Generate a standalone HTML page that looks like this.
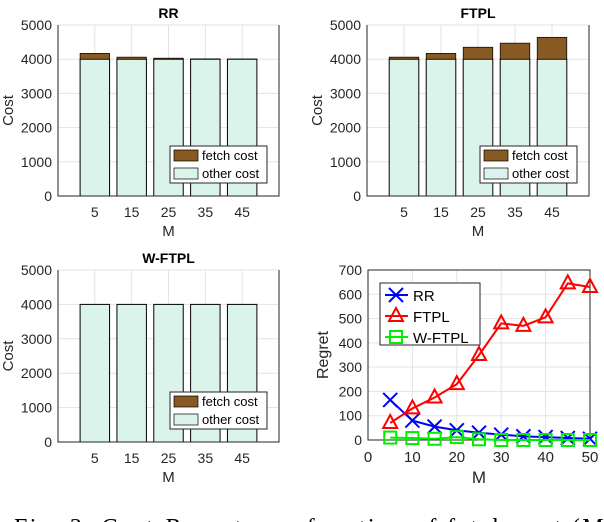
<!DOCTYPE html>
<html><head><meta charset="utf-8"><style>
body{margin:0;background:#fff;width:604px;height:522px;overflow:hidden}
svg{display:block;font-family:"Liberation Sans",sans-serif}
</style></head><body>
<svg id="fig" width="604" height="522" viewBox="0 0 604 522"></svg>
<script>
const categories = ["5","15","25","35","45"];
const costTicks = [0,1000,2000,3000,4000,5000];
const rrOther = [4000,4000,4000,4000,4000];
const rrFetch = [170,60,30,10,5];
const ftplOther = [4000,4000,4000,4000,4000];
const ftplFetch = [60,170,350,470,640];
const wftplOther = [4000,4000,4000,4000,4000];
const wftplFetch = [0,0,0,0,0];
const regretM = [5,10,15,20,25,30,35,40,45,50];
const regretRR = [165,80,55,40,30,22,15,12,8,5];
const regretFTPL = [70,130,175,230,350,480,470,505,645,630];
const regretWFTPL = [10,8,5,12,3,0,0,0,0,0];
const regretXTicks = [0,10,20,30,40,50];
const regretYTicks = [0,100,200,300,400,500,600,700];

const NS="http://www.w3.org/2000/svg";
const svg=document.getElementById('fig');
function mk(tag,attrs,parent,text){const e=document.createElementNS(NS,tag);for(const k in attrs)e.setAttribute(k,attrs[k]);if(text!==undefined)e.textContent=text;(parent||svg).appendChild(e);return e;}

function barPanel(name,title,L,R,T,B,other,fetch,legX,legY){
  const g=mk('g',{});
  
  
  const y=v=>B-(v/5000)*(B-T);
  const x=i=>L+(i+1)*(R-L)/6;
  const bw=0.8*(R-L)/6;
  costTicks.forEach(t=>{
    const gl=mk('line',{x1:L,x2:R,y1:y(t),y2:y(t),stroke:'#e3e3e3','stroke-width':1},g);
    
    const tl=mk('text',{x:L-6,y:y(t)+5,'text-anchor':'end','font-size':14,fill:'#262626'},g,String(t));
    
  });
  categories.forEach((c,i)=>{
    const gl=mk('line',{x1:x(i),x2:x(i),y1:T,y2:B,stroke:'#e3e3e3','stroke-width':1},g);
    
  });
  categories.forEach((c,i)=>{
    const o=mk('rect',{x:x(i)-bw/2,y:y(other[i]),width:bw,height:B-y(other[i]),fill:'#daf4ec',stroke:'#000','stroke-width':1},g);
    
    if(fetch[i]>0){
      const f=mk('rect',{x:x(i)-bw/2,y:y(other[i]+fetch[i]),width:bw,height:y(other[i])-y(other[i]+fetch[i]),fill:'#875a24',stroke:'#000','stroke-width':0.7},g);
      
    }
    const tl=mk('text',{x:x(i),y:B+21,'text-anchor':'middle','font-size':14,fill:'#262626'},g,c);
    
  });
  const ax=mk('path',{d:`M${L},${T}V${B}H${R}V${T}`,fill:'none',stroke:'#262626','stroke-width':1},g);
  
  const ti=mk('text',{x:(L+R)/2,y:T-7,'text-anchor':'middle','font-size':14,'font-weight':'bold',fill:'#000'},g,title);
  
  const xl=mk('text',{x:(L+R)/2,y:B+40,'text-anchor':'middle','font-size':15,fill:'#262626'},g,'M');
  
  const yl=mk('text',{x:0,y:0,'text-anchor':'middle','font-size':15,fill:'#262626',transform:`translate(${L-45},${(T+B)/2}) rotate(-90)`},g,'Cost');
  
  const lg=mk('g',{},g);
  
  mk('rect',{x:legX,y:legY,width:97,height:37,fill:'#fff',stroke:'#262626','stroke-width':1},lg);
  mk('rect',{x:legX+4,y:legY+4,width:24,height:11,fill:'#875a24',stroke:'#000','stroke-width':0.7},lg);
  mk('rect',{x:legX+4,y:legY+22,width:24,height:11,fill:'#daf4ec',stroke:'#000','stroke-width':0.7},lg);
  const e1=mk('text',{x:legX+32,y:legY+14,'font-size':13,fill:'#000'},lg,'fetch cost');
  
  const e2=mk('text',{x:legX+32,y:legY+32,'font-size':13,fill:'#000'},lg,'other cost');
  
}
barPanel('rr','RR',58,279,25,196,rrOther,rrFetch,170,146);
barPanel('ftpl','FTPL',367,589,25,196,ftplOther,ftplFetch,480,146);
barPanel('wftpl','W-FTPL',58,279,270,442,wftplOther,wftplFetch,170,392);

(function(){
  const L=368,R=590,T=270,B=440;
  const g=mk('g',{});
  
  
  const x=v=>L+(v/50)*(R-L);
  const y=v=>B-(v/700)*(B-T);
  regretYTicks.forEach(t=>{
    const gl=mk('line',{x1:L,x2:R,y1:y(t),y2:y(t),stroke:'#e3e3e3'},g);
    
    const tl=mk('text',{x:L-6,y:y(t)+5,'text-anchor':'end','font-size':14,fill:'#262626'},g,String(t));
    
  });
  regretXTicks.forEach(t=>{
    const gl=mk('line',{x1:x(t),x2:x(t),y1:T,y2:B,stroke:'#e3e3e3'},g);
    
    const tl=mk('text',{x:x(t),y:B+22,'text-anchor':'middle','font-size':15,fill:'#262626'},g,String(t));
    
  });
  const ax=mk('rect',{x:L,y:T,width:R-L,height:B-T,fill:'none',stroke:'#262626'},g);
  
  function marker(type,cx,cy,col,parent){
    if(type==='x'){return mk('path',{d:`M${cx-7},${cy-7}L${cx+7},${cy+7}M${cx-7},${cy+7}L${cx+7},${cy-7}`,stroke:col,'stroke-width':2,fill:'none'},parent);}
    if(type==='tri'){return mk('path',{d:`M${cx},${cy-8}L${cx+7},${cy+5}L${cx-7},${cy+5}Z`,stroke:col,'stroke-width':2,fill:'none'},parent);}
    return mk('rect',{x:cx-6,y:cy-6,width:12,height:12,stroke:col,'stroke-width':2,fill:'none'},parent);
  }
  const series=[['rr',regretRR,'#0000ff','x'],['ftpl',regretFTPL,'#ff0000','tri'],['wftpl',regretWFTPL,'#00ee00','sq']];
  series.forEach(([n,vals,col,m])=>{
    const sg=mk('g',{},g);
    
    const ln=mk('polyline',{points:vals.map((v,i)=>x(regretM[i])+','+y(v)).join(' '),fill:'none',stroke:col,'stroke-width':2},sg);
    
    vals.forEach((v,i)=>{const p=marker(m,x(regretM[i]),y(v),col,sg);
      });
  });
  const lg=mk('g',{},g);
  
  mk('rect',{x:380,y:283,width:100,height:62,fill:'#fff',stroke:'#262626'},lg);
  const names=['RR','FTPL','W-FTPL'];
  series.forEach(([n,vals,col,m],i)=>{
    const yy=295+i*21;
    mk('line',{x1:385,x2:408,y1:yy,y2:yy,stroke:col,'stroke-width':2},lg);
    marker(m,396,yy,col,lg);
    const t=mk('text',{x:413,y:yy+6,'font-size':15,fill:'#000'},lg,names[i]);
    
  });
  const xl=mk('text',{x:(L+R)/2,y:B+43,'text-anchor':'middle','font-size':17,fill:'#262626'},g,'M');
  
  const yl=mk('text',{x:0,y:0,'text-anchor':'middle','font-size':16,fill:'#262626',transform:`translate(${L-40},${(T+B)/2}) rotate(-90)`},g,'Regret');
  
})();
const cap=mk('text',{x:14,y:535,'font-family':'Liberation Serif, serif','font-size':24,fill:'#000',textLength:600,lengthAdjust:'spacing'},svg,'Fig. 3: Cost-Regret as a function of fetch cost (M)');


</script>
</body></html>
